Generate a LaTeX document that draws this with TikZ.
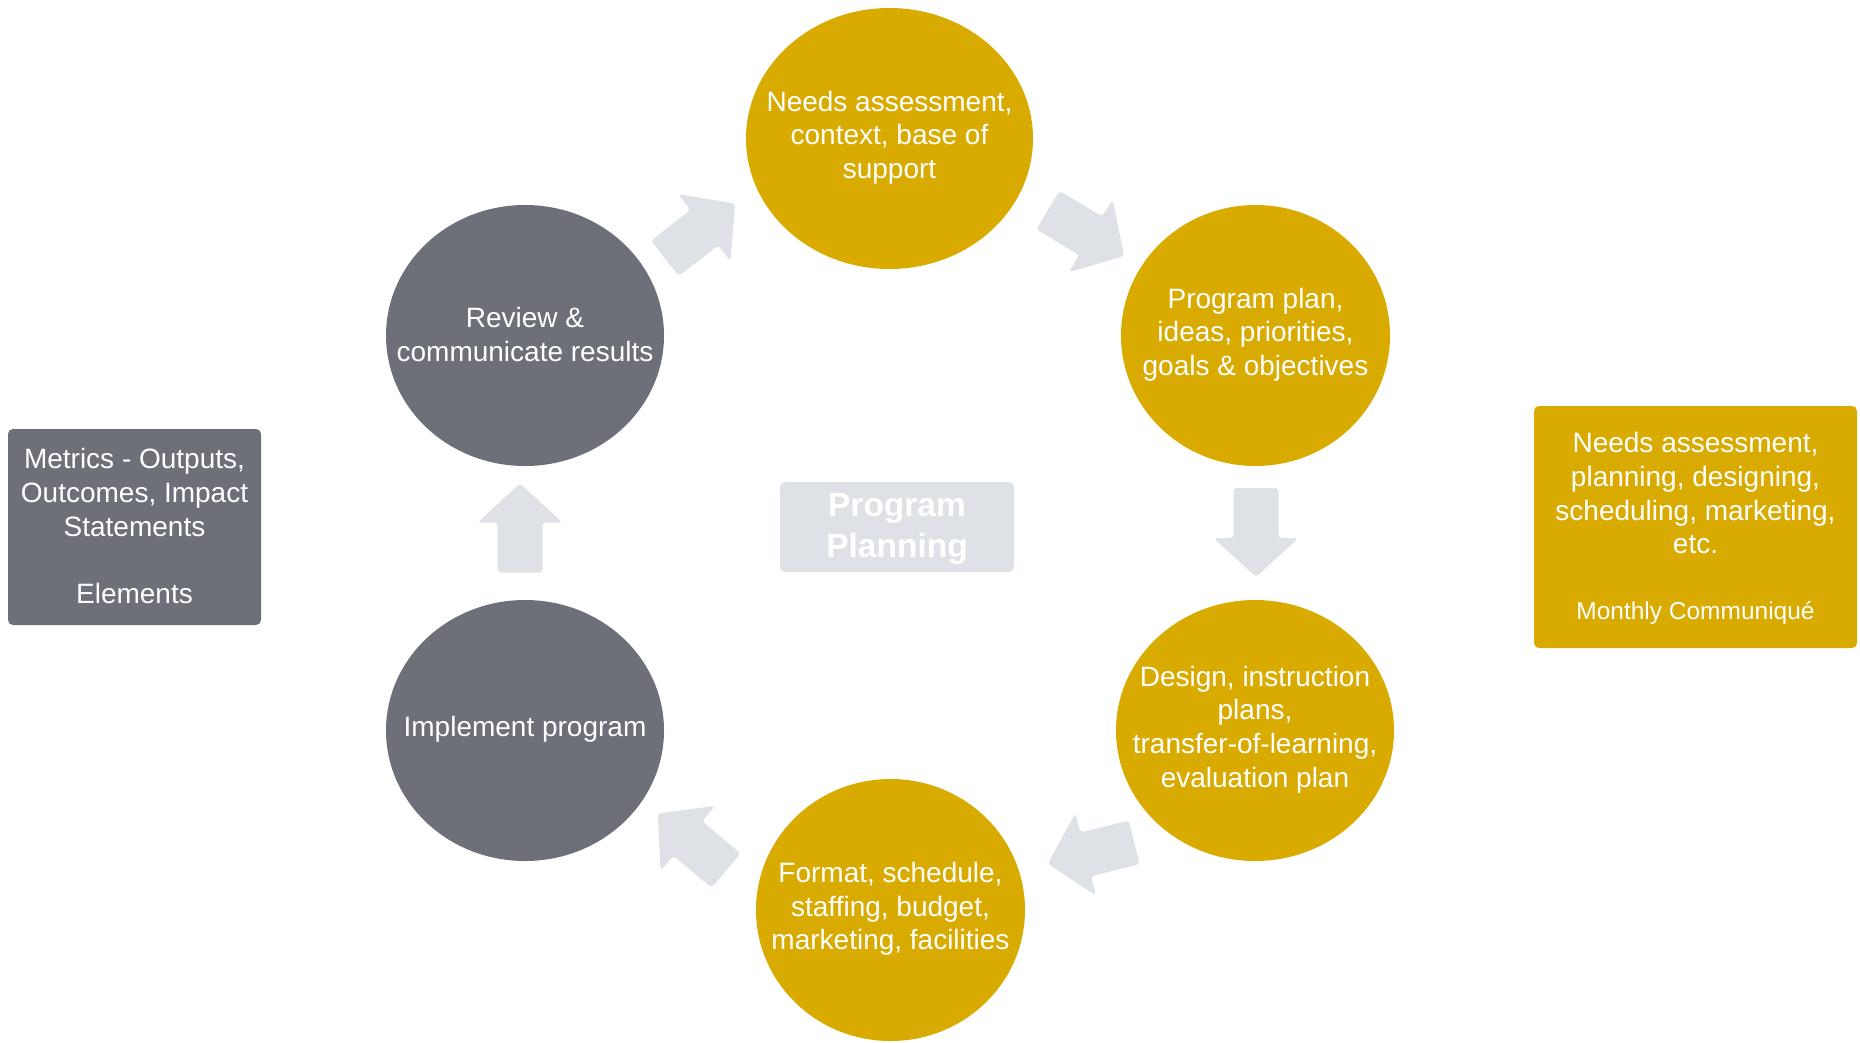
\documentclass[tikz,border=0pt]{standalone}
\usepackage{fontspec}
\setmainfont{Liberation Sans}
\usetikzlibrary{shapes.geometric}
\definecolor{gold}{RGB}{217,171,0}
\definecolor{slate}{RGB}{109,111,121}
\definecolor{pale}{RGB}{222,225,230}
\tikzset{
  txt/.style={text=white, align=center, font=\fontsize{28}{33.6}\selectfont, inner sep=0pt, yshift=1pt},
  blob/.style={ellipse, inner sep=0pt, draw=none},
  goldblob/.style={blob, fill=gold},
  grayblob/.style={blob, fill=slate},
  bigarrow/.pic={\fill[pale, rounded corners=3.5pt] (-44.5,-22.5) -- (5.5,-22.5) -- (5.5,-42.5) -- (44.5,0) -- (5.5,42.5) -- (5.5,22.5) -- (-44.5,22.5) -- cycle;}
}
\begin{document}
\begin{tikzpicture}[x=1pt,y=-1pt]
\useasboundingbox (0,0) rectangle (1860,1042);
% circles
\node[goldblob, minimum width=287, minimum height=261, label={[txt]center:Needs assessment,\\context, base of\\support}] (c1) at (889.5,138.5) {};
\node[goldblob, minimum width=269, minimum height=261, label={[txt]center:Program plan,\\ideas, priorities,\\goals \& objectives}] (c2) at (1255.5,335.5) {};
\node[goldblob, minimum width=278, minimum height=261, label={[txt]center:Design, instruction\\plans,\\transfer-of-learning,\\evaluation plan}] (c3) at (1255,730.5) {};
\node[goldblob, minimum width=269, minimum height=262, label={[txt]center:Format, schedule,\\staffing, budget,\\marketing, facilities}] (c4) at (890.5,910) {};
\node[grayblob, minimum width=278, minimum height=261, label={[txt]center:Implement program}] (c5) at (525,730.5) {};
\node[grayblob, minimum width=278, minimum height=261, label={[txt]center:Review \&\\communicate results}] (c6) at (525,335.5) {};
% block arrows
\pic[rotate=38] at (700,231) {bigarrow};
\pic[rotate=-31] at (1086,233) {bigarrow};
\pic[rotate=-90] at (1256,532.5) {bigarrow};
\pic[rotate=194] at (1091,853) {bigarrow};
\pic[rotate=140] at (692,842) {bigarrow};
\pic[rotate=90] at (520,528) {bigarrow};
% center box
\node[fill=pale, rounded corners=5pt, minimum width=234, minimum height=90, inner sep=0pt] (center) at (897,527) {};
\node[text=white, align=center, font=\fontsize{33.5}{40.5}\selectfont\bfseries, inner sep=0pt] (ctxt) at (897,529) {Program\\Planning};
% left box
\node[fill=slate, rounded corners=5pt, minimum width=253, minimum height=196, inner sep=0pt] (lbox) at (134.5,527) {};
\node[txt] (ltxt) at (lbox.center) {Metrics - Outputs,\\Outcomes, Impact\\Statements\\[33.6pt]Elements};
% right box
\node[fill=gold, rounded corners=5pt, minimum width=323, minimum height=242, inner sep=0pt] (rbox) at (1695.5,527) {};
\node[txt, yshift=-2.5pt] (rtxt) at (rbox.center) {Needs assessment,\\planning, designing,\\scheduling, marketing,\\etc.\\[32pt]{\fontsize{24.5}{29}\selectfont Monthly Communiqué}};
\end{tikzpicture}
\end{document}
